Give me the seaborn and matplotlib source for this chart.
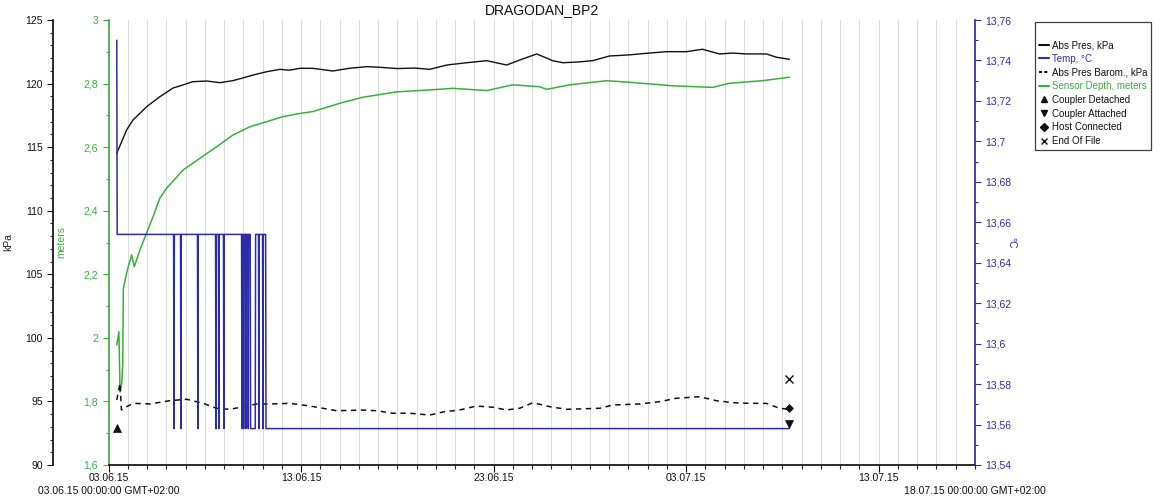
import numpy as np
import pandas as pd
import matplotlib
matplotlib.use("Agg")
import matplotlib.pyplot as plt
import seaborn as sns
from matplotlib.ticker import MultipleLocator, FuncFormatter, FixedLocator
from matplotlib.lines import Line2D

sns.set_theme(style="ticks")
plt.rcParams["font.family"] = ["Liberation Sans", "DejaVu Sans"]

# ---------------- data (x = days since 03.06.15 00:00) ----------------
pres_day = [0.43, 0.94, 1.27, 1.98, 2.67, 3.35, 3.87, 4.38, 5.10, 5.79, 6.46, 7.00, 7.50,
            8.21, 8.90, 9.40, 9.94, 10.61, 11.10, 11.65, 12.50, 13.41, 14.09, 15.00, 15.90,
            16.68, 17.57, 18.60, 19.64, 20.68, 21.35, 22.24, 23.07, 23.59, 24.40, 25.14,
            26.02, 27.00, 27.94, 28.98, 30.02, 30.85, 31.73, 32.40, 33.13, 34.17, 34.69, 35.36]
pres_kpa = [114.52, 116.35, 117.13, 118.18, 118.97, 119.65, 119.89, 120.15, 120.20, 120.07,
            120.23, 120.45, 120.67, 120.93, 121.12, 121.05, 121.20, 121.20, 121.10, 120.99,
            121.20, 121.33, 121.28, 121.18, 121.22, 121.12, 121.46, 121.64, 121.80, 121.46,
            121.85, 122.33, 121.80, 121.64, 121.70, 121.80, 122.17, 122.25, 122.38, 122.51,
            122.51, 122.70, 122.33, 122.40, 122.33, 122.33, 122.07, 121.91]

depth_day = [0.43, 0.54, 0.60, 0.69, 0.74, 0.77, 0.94, 1.20, 1.34, 1.63, 1.98, 2.31, 2.67,
             3.02, 3.87, 4.75, 5.61, 6.46, 7.34, 8.21, 9.06, 9.94, 10.61, 12.01, 13.21,
             14.97, 16.68, 17.88, 19.64, 20.99, 22.39, 22.76, 23.95, 25.87, 27.07, 29.30,
             31.37, 32.25, 33.96, 35.36]
depth_m = [1.978, 2.019, 1.830, 1.858, 1.921, 2.154, 2.204, 2.261, 2.224, 2.276, 2.330,
           2.381, 2.440, 2.471, 2.528, 2.565, 2.601, 2.638, 2.664, 2.680, 2.696, 2.706,
           2.712, 2.738, 2.757, 2.774, 2.780, 2.785, 2.778, 2.796, 2.790, 2.782, 2.796,
           2.809, 2.804, 2.793, 2.788, 2.801, 2.809, 2.820]

baro_day = [0.43, 0.60, 0.67, 0.77, 1.29, 2.15, 3.19, 4.06, 4.92, 5.61, 6.31, 7.00, 7.69,
            8.38, 9.42, 10.46, 11.84, 13.22, 13.92, 14.78, 15.65, 16.68, 17.37, 18.24,
            19.11, 19.97, 20.66, 21.35, 22.04, 22.91, 23.78, 25.51, 26.20, 27.58, 28.62,
            29.49, 30.70, 31.56, 32.42, 33.29, 34.16, 34.85, 35.36]
baro_kpa = [95.11, 96.43, 94.33, 94.46, 94.85, 94.80, 95.06, 95.17, 94.85, 94.46, 94.38,
            94.58, 94.80, 94.80, 94.85, 94.64, 94.27, 94.32, 94.27, 94.07, 94.07, 93.93,
            94.17, 94.33, 94.64, 94.54, 94.33, 94.46, 94.90, 94.59, 94.38, 94.46, 94.72,
            94.80, 94.98, 95.25, 95.37, 95.06, 94.90, 94.85, 94.85, 94.46, 94.38]

temp_day = [0.43, 0.45,
            3.38, 3.40, 3.42, 3.74, 3.76, 3.78, 4.62, 4.64, 4.66,
            5.56, 5.58, 5.60, 5.71, 5.73, 5.75, 5.97, 5.99, 6.01,
            6.91, 6.93, 6.95, 7.00, 7.02, 7.04, 7.12, 7.14, 7.16, 7.24, 7.26, 7.28,
            7.36, 7.38, 7.62, 7.64,
            7.79, 7.81, 7.83, 8.00, 8.02, 8.04,
            8.16, 8.18, 35.36]
temp_c = [13.750, 13.654,
          13.654, 13.558, 13.654, 13.654, 13.558, 13.654, 13.654, 13.558, 13.654,
          13.654, 13.558, 13.654, 13.654, 13.558, 13.654, 13.654, 13.558, 13.654,
          13.654, 13.558, 13.654, 13.654, 13.558, 13.654, 13.654, 13.558, 13.654, 13.654, 13.558, 13.654,
          13.654, 13.558, 13.558, 13.654,
          13.654, 13.558, 13.654, 13.654, 13.558, 13.654,
          13.654, 13.558, 13.558]

event_names = ["Coupler Detached", "Coupler Attached", "Host Connected", "End Of File"]
event_day = [0.43, 35.36, 35.36, 35.36]
event_kpa = [92.9, 93.2, 94.5, 96.8]
event_marker = ["^", "v", "D", "x"]

tick_days = [0, 10, 20, 30, 40]
tick_labels = ["03.06.15", "13.06.15", "23.06.15", "03.07.15", "13.07.15"]
start_label = "03.06.15 00:00:00 GMT+02:00"
end_label = "18.07.15 00:00:00 GMT+02:00"

# ---------------- styling ----------------
BLACK = "#111111"
BLUE = "#2c2ca8"
GREEN = "#3aaf3a"
TFS = 7.5

def comma(v, pos):
    s = "%g" % round(v, 4)
    return s.replace(".", ",")

fig = plt.figure(figsize=(11.61, 4.99), dpi=100)
L, R, B, T = 108.5 / 1161, 975 / 1161, 34 / 499, 479 / 499
AXW = 975 - 108.5
ax = fig.add_axes([L, B, R - L, T - B])
ax_k = ax.twinx()
ax_t = ax.twinx()

# meters axis (main, left spine)
df_d = pd.DataFrame({"day": depth_day, "m": depth_m})
sns.lineplot(data=df_d, x="day", y="m", ax=ax, color=GREEN, lw=1.1,
             estimator=None, sort=False)
ax.set_xlim(0, 45)
ax.set_ylim(1.6, 3.0)
ax.yaxis.set_major_locator(MultipleLocator(0.2))
ax.yaxis.set_minor_locator(MultipleLocator(0.1))
ax.yaxis.set_major_formatter(FuncFormatter(comma))
ax.set_ylabel("meters", color=GREEN, fontsize=7.5)
ax.yaxis.set_label_coords((66 - 108.5) / AXW, 0.5)
ax.set_xlabel("")
for s in ["top", "right"]:
    ax.spines[s].set_visible(False)
ax.spines["left"].set_color(GREEN)
ax.spines["bottom"].set_color(BLACK)
ax.tick_params(axis="y", colors=GREEN, labelsize=TFS, length=4, width=0.8)
ax.tick_params(axis="y", which="minor", colors=GREEN, length=2, width=0.8, left=True)
ax.xaxis.set_major_locator(FixedLocator(tick_days))
ax.set_xticklabels(tick_labels)
ax.xaxis.set_minor_locator(MultipleLocator(1))
ax.tick_params(axis="x", colors=BLACK, labelsize=TFS, length=5, width=0.8, pad=1)
ax.tick_params(axis="x", which="minor", length=3, width=0.8, bottom=True)
for d in range(1, 45):
    ax.axvline(d, color="#dcdcdc", lw=0.8, zorder=0)

# kPa axis (far left)
df_p = pd.DataFrame({"day": pres_day, "kpa": pres_kpa})
df_b = pd.DataFrame({"day": baro_day, "kpa": baro_kpa})
sns.lineplot(data=df_p, x="day", y="kpa", ax=ax_k, color=BLACK, lw=1.0,
             estimator=None, sort=False)
sns.lineplot(data=df_b, x="day", y="kpa", ax=ax_k, color=BLACK, lw=1.1,
             estimator=None, sort=False, linestyle=(0, (3.5, 3)))
for nm, d, k, mk in zip(event_names, event_day, event_kpa, event_marker):
    ax_k.plot([d], [k], marker=mk, color=BLACK, ms=6 if mk != "D" else 4.5,
              mew=1.0 if mk == "x" else 0.5, ls="none")
ax_k.set_ylim(90, 125)
ax_k.yaxis.set_label_position("left")
ax_k.yaxis.tick_left()
ax_k.spines["left"].set_position(("axes", -0.064))
ax_k.spines["left"].set_visible(True)
ax_k.spines["left"].set_color(BLACK)
for s in ["top", "right", "bottom"]:
    ax_k.spines[s].set_visible(False)
ax_k.yaxis.set_major_locator(MultipleLocator(5))
ax_k.yaxis.set_minor_locator(MultipleLocator(1))
ax_k.tick_params(axis="y", colors=BLACK, labelsize=TFS, length=4, width=0.8)
ax_k.tick_params(axis="y", which="minor", length=2, width=0.8, left=True)
ax_k.set_ylabel("kPa", fontsize=7.5)
ax_k.yaxis.set_label_coords((13 - 108.5) / AXW, 0.5)
ax_k.set_xlabel("")

# temperature axis (right)
df_t = pd.DataFrame({"day": temp_day, "c": temp_c})
sns.lineplot(data=df_t, x="day", y="c", ax=ax_t, color=BLUE, lw=1.1,
             estimator=None, sort=False)
ax_t.set_ylim(13.54, 13.76)
ax_t.yaxis.set_major_locator(MultipleLocator(0.02))
ax_t.yaxis.set_minor_locator(MultipleLocator(0.01))
ax_t.yaxis.set_major_formatter(FuncFormatter(comma))
for s in ["top", "left", "bottom"]:
    ax_t.spines[s].set_visible(False)
ax_t.spines["right"].set_color(BLUE)
ax_t.tick_params(axis="y", colors=BLUE, labelsize=TFS, length=4, width=0.8)
ax_t.tick_params(axis="y", which="minor", colors=BLUE, length=2, width=0.8, right=True)
ax_t.set_ylabel("°C", color=BLUE, fontsize=7.5, rotation=270)
ax_t.yaxis.set_label_coords((1016 - 108.5) / AXW, 0.5)
ax_t.set_xlabel("")
ax_t.set_xlim(0, 45)
ax_k.set_xlim(0, 45)

ax.set_title("DRAGODAN_BP2", fontsize=10, pad=4, color=BLACK)

fig.text(L, 1 - 491 / 499, start_label, ha="center", va="center", fontsize=TFS, color=BLACK)
fig.text(R, 1 - 491 / 499, end_label, ha="center", va="center", fontsize=TFS, color=BLACK)

# legend
handles = [
    Line2D([], [], color=BLACK, lw=1.5),
    Line2D([], [], color=BLUE, lw=1.5),
    Line2D([], [], color=BLACK, lw=1.5, ls=(0, (1.5, 1))),
    Line2D([], [], color=GREEN, lw=1.5),
] + [Line2D([], [], color=BLACK, marker=m, ls="none", ms=5 if m != "D" else 4) for m in event_marker]
labels = ["Abs Pres, kPa", "Temp, °C", "Abs Pres Barom., kPa", "Sensor Depth, meters"] + event_names
leg = fig.legend(handles, labels, loc="upper left", bbox_to_anchor=(1035 / 1161, 1 - 22 / 499),
                 borderaxespad=0.0,
                 fontsize=7.0, frameon=True, fancybox=False, edgecolor=BLACK,
                 handlelength=1.0, handletextpad=0.25, labelspacing=0.38, borderpad=0.45,
                 title=" ", title_fontsize=7)
leg.get_frame().set_linewidth(0.9)
text_colors = [BLACK, BLUE, BLACK, GREEN, BLACK, BLACK, BLACK, BLACK]
for t, c in zip(leg.get_texts(), text_colors):
    t.set_color(c)

fig.savefig("out.png", dpi=100)
